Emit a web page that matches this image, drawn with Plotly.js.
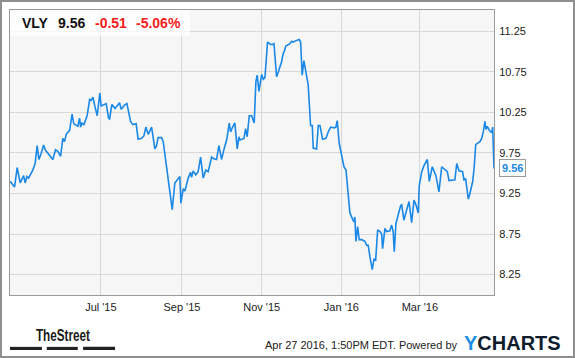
<!DOCTYPE html>
<html>
<head>
<meta charset="utf-8">
<script src="https://cdn.plot.ly/plotly-3.0.1.min.js"></script>
<style>
  html, body { margin: 0; padding: 0; background: #fff; overflow: hidden; }
  #chart { position: absolute; left: 0; top: 0; width: 575px; height: 358px; }
  #frame { position: absolute; left: 0; top: 0; width: 575px; height: 358px; box-sizing: border-box; border: 2px solid #8f8f8f; pointer-events: none; }
</style>
</head>
<body>
<div id="chart"></div>
<div id="frame"></div>
<script>
// ---- data ----
const ticker = "VLY";
const lastPrice = "9.56";
const change = "-0.51";
const changePct = "-5.06%";
const stamp = "Apr 27 2016, 1:50PM EDT. Powered by";
const logoText = "TheStreet";

const dates = [
"2015-04-22 14:00","2015-04-26 00:00","2015-04-28 00:00","2015-04-30 07:00","2015-05-02 22:00","2015-05-04 02:00",
"2015-05-05 10:00","2015-05-06 17:00","2015-05-10 00:00","2015-05-11 17:00","2015-05-13 07:00","2015-05-14 14:00",
"2015-05-16 07:00","2015-05-18 05:00","2015-05-19 10:00","2015-05-22 17:00","2015-05-25 07:00","2015-05-27 07:00",
"2015-05-29 02:00","2015-05-31 05:00","2015-06-01 22:00","2015-06-03 05:00","2015-06-04 12:00","2015-06-07 02:00",
"2015-06-09 00:00","2015-06-10 07:00","2015-06-13 10:00","2015-06-14 17:00","2015-06-15 12:00","2015-06-16 12:00",
"2015-06-18 00:00","2015-06-20 12:00","2015-06-22 10:00","2015-06-23 14:00","2015-06-24 22:00","2015-06-26 05:00",
"2015-06-28 05:00","2015-06-30 05:00","2015-07-01 05:00","2015-07-05 02:00","2015-07-06 22:00","2015-07-07 17:00",
"2015-07-09 10:00","2015-07-11 22:00","2015-07-15 07:00","2015-07-16 12:00","2015-07-19 02:00","2015-07-20 22:00",
"2015-07-21 17:00","2015-07-23 17:00","2015-07-25 12:00","2015-07-28 00:00","2015-07-29 12:00","2015-08-01 02:00",
"2015-08-02 22:00","2015-08-04 10:00","2015-08-06 05:00","2015-08-08 19:00","2015-08-11 07:00","2015-08-12 14:00",
"2015-08-13 19:00","2015-08-16 10:00","2015-08-17 17:00","2015-08-19 12:00","2015-08-20 17:00","2015-08-22 19:00",
"2015-08-24 14:00","2015-08-26 14:00","2015-08-29 02:00","2015-08-30 10:00","2015-08-31 05:00","2015-09-02 00:00",
"2015-09-03 07:00","2015-09-05 19:00","2015-09-07 14:00","2015-09-08 10:00","2015-09-09 14:00","2015-09-11 12:00",
"2015-09-13 10:00","2015-09-15 07:00","2015-09-17 07:00","2015-09-19 07:00","2015-09-21 02:00","2015-09-23 17:00",
"2015-09-25 12:00","2015-09-27 12:00","2015-09-29 07:00","2015-10-01 07:00","2015-10-03 02:00","2015-10-05 05:00",
"2015-10-07 05:00","2015-10-08 05:00","2015-10-09 19:00","2015-10-11 12:00","2015-10-13 07:00","2015-10-14 14:00",
"2015-10-15 10:00","2015-10-18 10:00","2015-10-19 17:00","2015-10-20 22:00","2015-10-22 12:00","2015-10-24 07:00",
"2015-10-26 07:00","2015-10-27 14:00","2015-10-28 14:00","2015-10-29 22:00","2015-11-01 00:00","2015-11-02 05:00",
"2015-11-03 12:00","2015-11-05 12:00","2015-11-07 19:00","2015-11-09 10:00","2015-11-10 10:00","2015-11-12 10:00",
"2015-11-13 17:00","2015-11-16 07:00","2015-11-17 12:00","2015-11-18 05:00","2015-11-19 12:00","2015-11-21 07:00",
"2015-11-22 14:00","2015-11-23 22:00","2015-11-25 02:00","2015-11-27 17:00","2015-11-29 17:00","2015-11-30 19:00",
"2015-12-02 00:00","2015-12-03 07:00","2015-12-05 10:00","2015-12-06 14:00","2015-12-08 10:00","2015-12-09 17:00",
"2015-12-10 10:00","2015-12-13 00:00","2015-12-14 07:00","2015-12-15 14:00","2015-12-17 14:00","2015-12-20 05:00",
"2015-12-21 22:00","2015-12-23 19:00","2015-12-26 07:00","2015-12-27 19:00","2015-12-28 19:00","2015-12-30 07:00",
"2016-01-01 05:00","2016-01-02 22:00","2016-01-04 12:00","2016-01-06 05:00","2016-01-07 12:00","2016-01-09 14:00",
"2016-01-10 14:00","2016-01-11 07:00","2016-01-12 02:00","2016-01-13 10:00","2016-01-14 14:00","2016-01-16 12:00",
"2016-01-19 00:00","2016-01-20 07:00","2016-01-21 12:00","2016-01-22 19:00","2016-01-24 14:00","2016-01-25 22:00",
"2016-01-27 05:00","2016-01-28 17:00","2016-01-30 12:00","2016-01-31 19:00","2016-02-01 12:00","2016-02-03 07:00",
"2016-02-04 14:00","2016-02-07 02:00","2016-02-08 10:00","2016-02-09 14:00","2016-02-10 10:00","2016-02-11 17:00",
"2016-02-13 12:00","2016-02-15 07:00","2016-02-16 02:00","2016-02-17 19:00","2016-02-19 22:00","2016-02-21 17:00",
"2016-02-23 17:00","2016-02-25 12:00","2016-02-27 00:00","2016-02-28 19:00","2016-02-29 12:00","2016-03-02 10:00",
"2016-03-04 02:00","2016-03-06 17:00","2016-03-08 05:00","2016-03-10 12:00","2016-03-13 07:00","2016-03-15 14:00",
"2016-03-17 17:00","2016-03-20 05:00","2016-03-22 00:00","2016-03-23 07:00","2016-03-27 19:00","2016-03-29 05:00",
"2016-03-30 22:00","2016-04-02 17:00","2016-04-03 17:00","2016-04-05 00:00","2016-04-05 19:00","2016-04-07 02:00",
"2016-04-08 07:00","2016-04-10 10:00","2016-04-11 14:00","2016-04-12 17:00","2016-04-13 22:00","2016-04-16 00:00",
"2016-04-17 07:00","2016-04-18 12:00","2016-04-19 19:00","2016-04-20 14:00","2016-04-21 14:00","2016-04-23 02:00",
"2016-04-24 22:00","2016-04-25 17:00","2016-04-26 17:00"
];
const prices = [
9.40,9.33,9.57,9.38,9.47,9.38,
9.46,9.44,9.54,9.62,9.84,9.67,
9.74,9.85,9.79,9.72,9.67,9.79,
9.77,9.71,9.93,9.89,9.98,10.03,
10.23,10.11,10.08,10.18,10.07,10.12,
10.10,10.21,10.41,10.40,10.44,10.34,
10.21,10.49,10.33,10.36,10.18,10.17,
10.35,10.30,10.37,10.29,10.34,10.36,
10.30,10.14,10.10,10.11,9.92,9.93,
9.96,10.07,9.98,10.07,9.80,9.84,
9.94,9.94,9.89,9.66,9.54,9.25,
9.05,9.38,9.44,9.46,9.13,9.31,
9.28,9.44,9.51,9.45,9.53,9.48,
9.52,9.70,9.44,9.54,9.52,9.70,
9.68,9.67,9.84,9.67,9.79,9.91,
10.12,10.01,10.07,10.12,9.80,9.95,
9.91,9.93,10.05,9.95,10.21,10.21,
10.12,10.63,10.71,10.51,10.72,10.66,
10.68,11.12,11.09,11.09,11.10,10.69,
10.75,10.88,10.98,11.00,11.07,11.09,
11.10,11.13,11.12,11.14,11.15,11.12,
10.71,10.89,10.67,10.59,10.09,10.09,
9.81,9.80,10.09,10.09,9.92,9.93,
10.01,10.07,10.06,10.07,10.15,9.87,
9.72,9.58,9.54,9.21,9.01,8.93,
8.90,8.96,8.66,8.84,8.68,8.68,
8.66,8.61,8.61,8.47,8.31,8.44,
8.43,8.80,8.78,8.75,8.57,8.82,
8.78,8.79,8.86,8.78,8.53,8.88,
8.98,9.10,9.11,8.92,9.05,9.15,
8.89,9.17,9.11,9.01,9.34,9.52,
9.59,9.67,9.40,9.58,9.47,9.27,
9.58,9.55,9.52,9.41,9.42,9.62,
9.53,9.52,9.42,9.43,9.33,9.18,
9.25,9.40,9.58,9.85,9.87,9.89,
9.93,10.01,10.14,10.04,10.08,10.03,
10.00,10.07,9.56
];

const xTickVals = ["2015-07-01","2015-09-01","2015-11-01","2016-01-01","2016-03-01"];
const xTickText = ["Jul '15","Sep '15","Nov '15","Jan '16","Mar '16"];
const yTickVals = [8.25, 8.75, 9.25, 9.75, 10.25, 10.75, 11.25];
const yTickText = ["8.25","8.75","9.25","9.75","10.25","10.75","11.25"];

// ---- chart ----
const FONT = "Liberation Sans, Arial, Helvetica, sans-serif";
const BLUE = "#1a88e6";
const RED = "#f41c1c";

const trace = {
  x: dates, y: prices, type: "scatter", mode: "lines",
  line: { color: BLUE, width: 1.6 },
  hoverinfo: "skip"
};

const hdr = (txt, x, color) => ({
  xref: "paper", yref: "paper", x: x, y: 0.954, xanchor: "left", yanchor: "middle",
  text: "<b>" + txt + "</b>", showarrow: false,
  font: { family: FONT, size: 14, color: color }
});

const layout = {
  width: 575, height: 358,
  margin: { l: 10, r: 81, t: 10, b: 63, pad: 0 },
  paper_bgcolor: "#ffffff",
  plot_bgcolor: "#f6f6f6",
  showlegend: false,
  font: { family: FONT, size: 11, color: "#222" },
  xaxis: {
    type: "date",
    range: ["2015-04-22 12:00", "2016-04-26 17:00"],
    tickmode: "array", tickvals: xTickVals, ticktext: xTickText,
    showgrid: true, gridcolor: "#d8d8d8", gridwidth: 1,
    showline: true, linecolor: "#9a9a9a", linewidth: 1, mirror: true,
    ticks: "outside", ticklen: 2, tickcolor: "rgba(0,0,0,0)",
    zeroline: false, fixedrange: true,
    tickfont: { family: FONT, size: 11, color: "#222" }
  },
  yaxis: {
    side: "right",
    range: [7.997, 11.515],
    tickmode: "array", tickvals: yTickVals, ticktext: yTickText,
    showgrid: true, gridcolor: "#d8d8d8", gridwidth: 1,
    showline: true, linecolor: "#9a9a9a", linewidth: 1, mirror: true,
    ticks: "outside", ticklen: 2, tickcolor: "rgba(0,0,0,0)",
    zeroline: false, fixedrange: true,
    tickfont: { family: FONT, size: 11, color: "#222" }
  },
  shapes: [
    // translucent header panel
    { type: "rect", xref: "paper", yref: "paper", x0: 0, x1: 0.372, y0: 0.909, y1: 1,
      fillcolor: "rgba(255,255,255,0.75)", line: { width: 0 }, layer: "above" },
    // TheStreet logo bars
    { type: "rect", xref: "paper", yref: "paper", x0: 0.000, x1: 0.066, y0: -0.193, y1: -0.182,
      fillcolor: "#222", line: { width: 0 } },
    { type: "rect", xref: "paper", yref: "paper", x0: 0.076, x1: 0.140, y0: -0.193, y1: -0.182,
      fillcolor: "#222", line: { width: 0 } },
    { type: "rect", xref: "paper", yref: "paper", x0: 0.151, x1: 0.217, y0: -0.193, y1: -0.182,
      fillcolor: "#222", line: { width: 0 } }
  ],
  annotations: [
    hdr(ticker, 0.0207, "#111"),
    hdr(lastPrice, 0.0950, "#111"),
    hdr(change, 0.1716, RED),
    hdr(changePct, 0.2563, RED),
    // last price tag
    { xref: "x", yref: "y", x: dates[dates.length - 1], y: prices[prices.length - 1],
      xanchor: "left", yanchor: "middle", xshift: 5,
      text: "<b>" + lastPrice + "</b>", showarrow: false,
      font: { family: FONT, size: 11, color: BLUE },
      bgcolor: "#ffffff", bordercolor: "#9a9a9a", borderwidth: 1, borderpad: 2 },
    // footer
    { xref: "paper", yref: "paper", x: 0.1095, y: -0.142, xanchor: "center", yanchor: "middle",
      text: "<b>" + logoText + "</b>", showarrow: false,
      font: { family: FONT, size: 16, color: "#1a1a1a" } },
    { xref: "paper", yref: "paper", x: 0.9277, y: -0.1754, xanchor: "right", yanchor: "middle",
      text: stamp, showarrow: false,
      font: { family: FONT, size: 11, color: "#222" } },
    { xref: "paper", yref: "paper", x: 0.934, y: -0.1667, xanchor: "left", yanchor: "middle",
      text: "<b><span style='color:#1a8fe3'>Y</span>CHARTS</b>", showarrow: false,
      font: { family: FONT, size: 20, color: "#0f1c2b" } }
  ]
};

Plotly.newPlot("chart", [trace], layout, { displayModeBar: false, staticPlot: true }).then(function (gd) {
  // condense the logo word to match the narrow wordmark
  gd.querySelectorAll("text.annotation-text").forEach(function (t) {
    if (t.textContent === logoText) {
      t.setAttribute("textLength", "54");
      t.setAttribute("lengthAdjust", "spacingAndGlyphs");
    }
  });
});
</script>
</body>
</html>
